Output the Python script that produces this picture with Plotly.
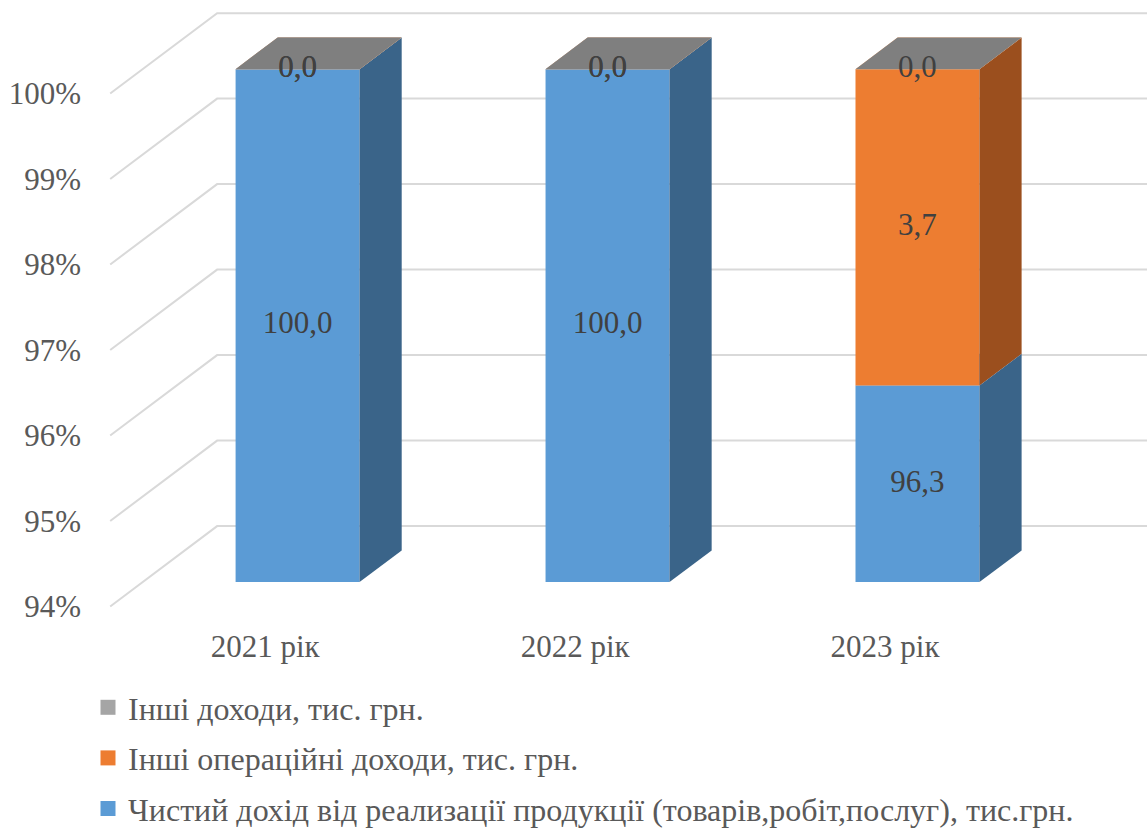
import plotly.graph_objects as go

# Revenue structure by year, % of total income
years = ["2021 рік", "2022 рік", "2023 рік"]
series_names = [
    "Чистий дохід від реализації продукції (товарів,робіт,послуг), тис.грн.",
    "Інші операційні доходи, тис. грн.",
    "Інші доходи, тис. грн.",
]
net_sales = [100.0, 100.0, 96.3]
other_operating = [0.0, 0.0, 3.7]
other_income = [0.0, 0.0, 0.0]
pct_ticks = [94, 95, 96, 97, 98, 99, 100]

series_values = [net_sales, other_operating, other_income]
front_colors = ["#5B9BD5", "#ED7D31", "#A5A5A5"]
side_colors = ["#3A6489", "#9B4F1E", "#6E6E6E"]
top_colors = ["#7FB2E0", "#F29A5C", "#7F7F7F"]
legend_colors = ["#5B9BD5", "#ED7D31", "#A5A5A5"]

FONT = "Liberation Serif"
AXIS_MIN, AXIS_MAX = pct_ticks[0], pct_ticks[-1]

# oblique projection of the depth axis (z in 0..1) onto the x / y data axes
DX, DY = 0.345, 0.94
Z0, Z1 = 0.303, 0.697   # front and back planes of the columns
HALF = 0.2              # half width of a column in category units
X_LEFT, X_RIGHT = -0.5, len(years) - 0.5


def proj(x, y, z):
    return x + z * DX, y + z * DY


fig = go.Figure()

# wall gridlines: side wall diagonal + back wall horizontal
gx, gy = [], []
for v in pct_ticks:
    a = proj(X_LEFT, v, 0)
    b = proj(X_LEFT, v, 1)
    c = proj(X_RIGHT, v, 1)
    gx += [a[0], b[0], c[0], None]
    gy += [a[1], b[1], c[1], None]
fig.add_trace(go.Scatter(x=gx, y=gy, mode="lines",
                         line=dict(color="#D9D9D9", width=2),
                         hoverinfo="skip", showlegend=False))


def add_poly(pts, color):
    xs = [p[0] for p in pts] + [pts[0][0]]
    ys = [p[1] for p in pts] + [pts[0][1]]
    fig.add_trace(go.Scatter(x=xs, y=ys, mode="lines", fill="toself",
                             fillcolor=color, line=dict(width=0, color=color),
                             hoverinfo="skip", showlegend=False))


label_x, label_y, label_text = [], [], []
for i in range(len(years)):
    base = 0.0
    xl, xr = i - HALF, i + HALF
    for s, vals in enumerate(series_values):
        lo, hi = base, base + vals[i]
        base = hi
        lo_c = max(lo, AXIS_MIN)
        hi_c = min(max(hi, AXIS_MIN), AXIS_MAX)
        if hi_c > lo_c:
            add_poly([proj(xl, lo_c, Z0), proj(xr, lo_c, Z0),
                      proj(xr, hi_c, Z0), proj(xl, hi_c, Z0)], front_colors[s])
            add_poly([proj(xr, lo_c, Z0), proj(xr, lo_c, Z1),
                      proj(xr, hi_c, Z1), proj(xr, hi_c, Z0)], side_colors[s])
        if hi >= AXIS_MIN:
            add_poly([proj(xl, hi_c, Z0), proj(xr, hi_c, Z0),
                      proj(xr, hi_c, Z1), proj(xl, hi_c, Z1)], top_colors[s])
        # value label centred on the visible front face
        mx, my = proj(i, (lo_c + hi_c) / 2, Z0)
        label_x.append(mx)
        label_y.append(my)
        label_text.append(f"{vals[i]:.1f}".replace(".", ","))

fig.add_trace(go.Scatter(x=label_x, y=label_y, text=label_text, mode="text",
                         textposition="middle center", cliponaxis=False,
                         textfont=dict(family=FONT, size=31, color="#404040"),
                         hoverinfo="skip", showlegend=False))

# legend entries (top to bottom: other income, other operating, net sales)
for s in [2, 1, 0]:
    fig.add_trace(go.Scatter(x=[None], y=[None], mode="markers",
                             name=series_names[s], legendgroup=f"g{s}",
                             marker=dict(symbol="square", size=15,
                                         color=legend_colors[s])))

fig.update_layout(
    width=1147, height=831,
    margin=dict(l=104, r=0, t=8, b=216, autoexpand=False),
    paper_bgcolor="white", plot_bgcolor="white",
    font=dict(family=FONT, size=31, color="#595959"),
    showlegend=True,
    legend=dict(xref="container", yref="container",
                x=88 / 1147, y=1 - 680 / 831, xanchor="left", yanchor="top",
                traceorder="grouped", tracegroupgap=6,
                font=dict(family=FONT, size=32, color="#595959"),
                bgcolor="rgba(0,0,0,0)"),
    xaxis=dict(range=[X_LEFT - 0.02, X_RIGHT + DX], showgrid=False,
               zeroline=False, showline=False, ticks="",
               tickvals=list(range(len(years))), ticktext=years,
               ticklabelstandoff=10, fixedrange=True),
    yaxis=dict(range=[93.9, 101.0], showgrid=False, zeroline=False,
               showline=False, ticks="",
               tickvals=pct_ticks, ticktext=[f"{v}%" for v in pct_ticks],
               ticklabelstandoff=22, fixedrange=True),
)

fig.write_html("out.html")
